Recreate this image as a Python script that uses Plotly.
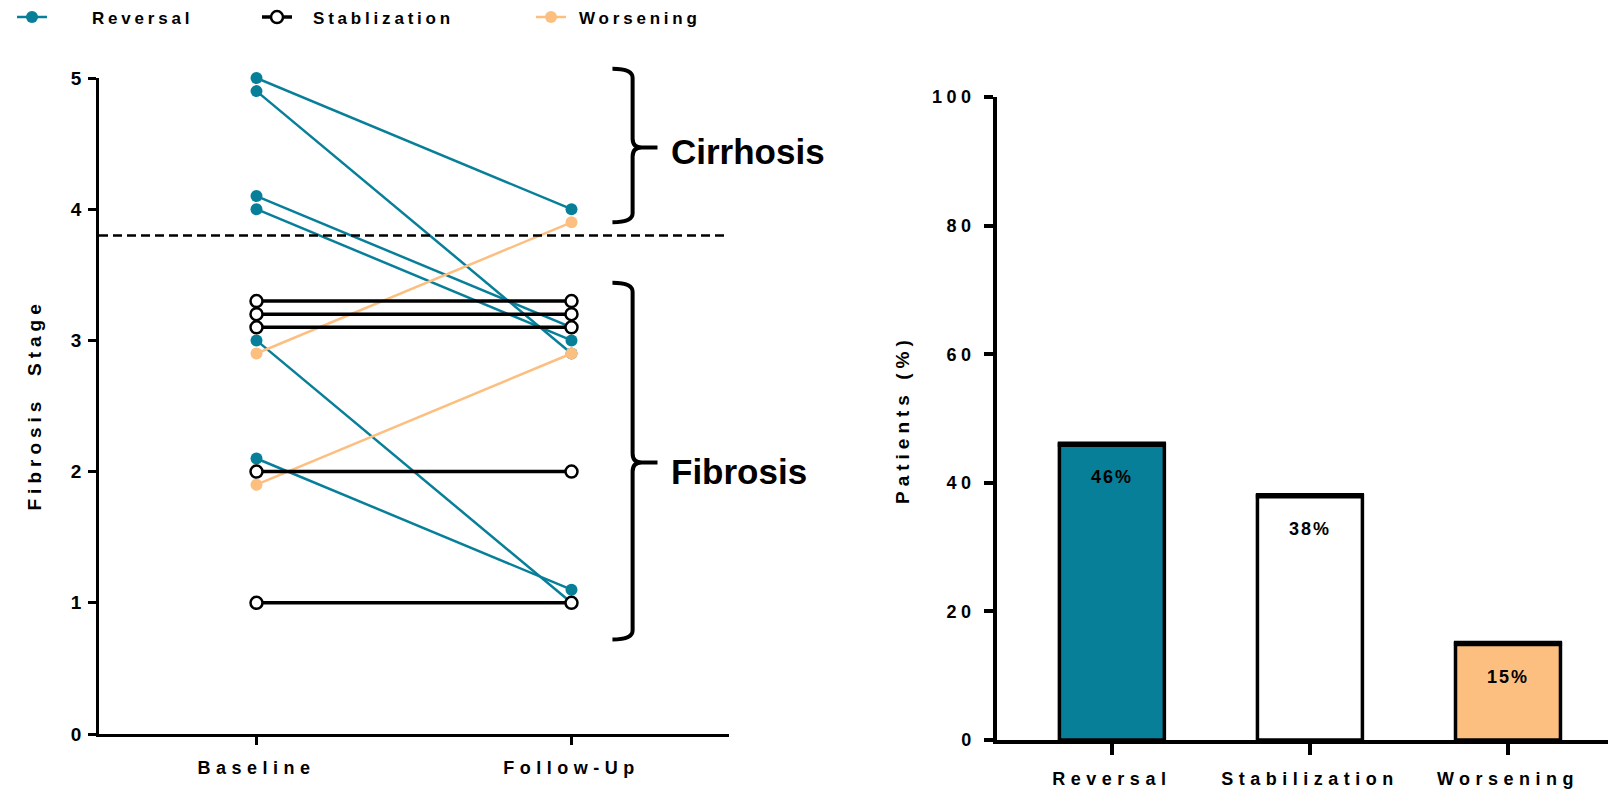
import plotly.graph_objects as go

# ---- data -------------------------------------------------------------
TIMEPOINTS = ["Baseline", "Follow-Up"]

reversal_baseline = [5.0, 4.9, 4.1, 4.0, 3.0, 2.1]
reversal_followup = [4.0, 2.9, 3.1, 3.0, 1.0, 1.1]
stabilization_baseline = [3.3, 3.2, 3.1, 2.0, 1.0]
stabilization_followup = [3.3, 3.2, 3.1, 2.0, 1.0]
worsening_baseline = [2.9, 1.9]
worsening_followup = [3.9, 2.9]

CIRRHOSIS_CUTOFF = 3.8
stage_ticks = [0, 1, 2, 3, 4, 5]

outcomes = ["Reversal", "Stabilization", "Worsening"]
outcome_pct = [46, 38, 15]
pct_ticks = [0, 20, 40, 60, 80, 100]

# ---- styling ----------------------------------------------------------
W, H = 1608, 789
TEAL = "#087f99"
ORANGE = "#fdbf80"
BLACK = "#000000"
FONT = "Liberation Sans, Arial, sans-serif"
BAR_WIDTH = 0.53

# left panel geometry (paper fractions)
LX = [99 / W, 729 / W]
LY = [1 - 734 / H, 1 - 78 / H]
LXR = [-0.5, 1.5]
LYR = [0, 5]
# right panel geometry
RX = [997 / W, 1.0]
RY = [1 - 740 / H, 1 - 97 / H]
RXR = [-0.58, 2.505]


def xpaper(v):
    return LX[0] + (v - LXR[0]) / (LXR[1] - LXR[0]) * (LX[1] - LX[0])


def ypaper(v):
    return LY[0] + (v - LYR[0]) / (LYR[1] - LYR[0]) * (LY[1] - LY[0])


def paired(before, after):
    xs, ys = [], []
    for b, a in zip(before, after):
        xs += [TIMEPOINTS[0], TIMEPOINTS[1], None]
        ys += [b, a, None]
    return xs, ys


fig = go.Figure()

groups = [
    ("Reversal", reversal_baseline, reversal_followup,
     dict(color=TEAL, width=2.5), dict(color=TEAL, size=12, line=dict(width=0)), "legend"),
    ("Worsening", worsening_baseline, worsening_followup,
     dict(color=ORANGE, width=2.5), dict(color=ORANGE, size=12, line=dict(width=0)), "legend3"),
    ("Stablization", stabilization_baseline, stabilization_followup,
     dict(color=BLACK, width=3.5), dict(color="white", size=12, line=dict(color=BLACK, width=2.5)), "legend2"),
]
for name, b, a, line, marker, lg in groups:
    xs, ys = paired(b, a)
    fig.add_trace(go.Scatter(
        x=xs, y=ys, mode="lines+markers", name=name, line=line, marker=marker,
        cliponaxis=False, legend=lg, xaxis="x", yaxis="y", hoverinfo="skip",
    ))

# bar panel
fig.add_trace(go.Bar(
    x=outcomes, y=outcome_pct, width=BAR_WIDTH,
    marker=dict(color=[TEAL, "white", ORANGE], line=dict(color=BLACK, width=3.5)),
    showlegend=False, xaxis="x2", yaxis="y2", hoverinfo="skip",
))
for i, (cat, v) in enumerate(zip(outcomes, outcome_pct)):
    # heavier cap on each bar top
    fig.add_shape(type="line", xref="x2", yref="y2",
                  x0=i - BAR_WIDTH / 2 - 0.008, x1=i + BAR_WIDTH / 2 + 0.008, y0=v, y1=v,
                  line=dict(color=BLACK, width=5.5))
    fig.add_annotation(x=cat, y=v, xref="x2", yref="y2", text=f"{v}%", showarrow=False,
                       yshift=-33, font=dict(family=FONT, size=18, color=BLACK, weight="bold"))

# cirrhosis threshold
fig.add_shape(type="line", xref="x", yref="y", x0=LXR[0], x1=LXR[1],
              y0=CIRRHOSIS_CUTOFF, y1=CIRRHOSIS_CUTOFF,
              line=dict(color=BLACK, width=2.5, dash="9px,5px"))


# curly brackets beside the follow-up column
def bracket(top, bottom, mid, xv=1.194, xh=1.13, xn=1.273, r=9):
    pv, ph, pn = xpaper(xv), xpaper(xh), xpaper(xn)
    t, b, m = ypaper(top), ypaper(bottom), ypaper(mid)
    dy = r / H
    dx = r / W
    return (f"M{ph},{t} Q{pv},{t} {pv},{t - dy} L{pv},{m + dy} "
            f"Q{pv},{m} {pv + dx},{m} L{pn},{m} M{pv + dx},{m} Q{pv},{m} {pv},{m - dy} "
            f"L{pv},{b + dy} Q{pv},{b} {ph},{b}")


for top, bottom, mid, label, ytext in [(5.07, 3.90, 4.47, "Cirrhosis", 4.44),
                                       (3.44, 0.72, 2.07, "Fibrosis", 2.0)]:
    fig.add_shape(type="path", xref="paper", yref="paper",
                  path=bracket(top, bottom, mid), line=dict(color=BLACK, width=4))
    fig.add_annotation(x=1.308, y=ytext, xref="x", yref="y", text=label, showarrow=False,
                       xanchor="left", yanchor="middle",
                       font=dict(family=FONT, size=35, color=BLACK, weight="bold"))

# axis titles
fig.add_annotation(x=22.5 / W, y=1 - 405 / H, xref="paper", yref="paper", text="Fibrosis  Stage",
                   textangle=-90, showarrow=False,
                   font=dict(family=FONT, size=19, color=BLACK, weight="bold"))
fig.add_annotation(x=902 / W, y=1 - 420 / H, xref="paper", yref="paper", text="Patients (%)",
                   textangle=-90, showarrow=False,
                   font=dict(family=FONT, size=19, color=BLACK, weight="bold"))

axis_common = dict(showgrid=False, zeroline=False, showline=True, linecolor=BLACK,
                   ticks="outside", tickcolor=BLACK, fixedrange=True)


def tickfont(size):
    return dict(family=FONT, size=size, color=BLACK, weight="bold")


# legend keys: (legend id, key centre px, label start px)
legend_slots = [("legend", 32, 92), ("legend2", 277, 313), ("legend3", 551, 579)]


def legend_at(symbol_center_px):
    return dict(orientation="h", xanchor="left", yanchor="middle", y=1 - 17.5 / H,
                x=(symbol_center_px - 20) / W, itemwidth=30, entrywidth=260,
                entrywidthmode="pixels", bgcolor="rgba(0,0,0,0)",
                font=dict(family=FONT, size=17, color=BLACK, weight="bold"))


fig.update_layout(
    width=W, height=H, margin=dict(l=0, r=0, t=0, b=0, autoexpand=False),
    paper_bgcolor="white", plot_bgcolor="white",
    xaxis=dict(domain=LX, range=LXR, type="category", categoryarray=TIMEPOINTS,
               linewidth=2.5, ticklen=8, tickwidth=2.5, ticklabelstandoff=8, anchor="y",
               tickfont=tickfont(18), **axis_common),
    yaxis=dict(domain=LY, range=LYR, tickvals=stage_ticks, linewidth=2.5, ticklen=8,
               tickwidth=2.5, ticklabelstandoff=3, anchor="x", tickfont=tickfont(19),
               **axis_common),
    xaxis2=dict(domain=RX, range=RXR, type="category", categoryarray=outcomes,
                linewidth=3.5, ticklen=11, tickwidth=3.5, ticklabelstandoff=9, anchor="y2",
                tickfont=tickfont(18), **axis_common),
    yaxis2=dict(domain=RY, range=[0, 100], tickvals=pct_ticks, linewidth=3.5, ticklen=9,
                tickwidth=3.5, ticklabelstandoff=5, anchor="x2", tickfont=tickfont(18),
                **axis_common),
    **{lid: legend_at(c) for lid, c, _ in legend_slots},
)

# tracked lettering, as in the original Prism export
css_rules = [
    ".xtick text { letter-spacing: 5.5px; }",
    ".x2tick text { letter-spacing: 5.5px; }",
    ".y2tick text { letter-spacing: 4.5px; }",
    "g.annotation[data-index='0'] text, g.annotation[data-index='1'] text,"
    " g.annotation[data-index='2'] text { letter-spacing: 2px; }",
    "g.annotation[data-index='5'] text, g.annotation[data-index='6'] text"
    " { letter-spacing: 5px; }",
]
for lid, centre, text_start in legend_slots:
    shift = text_start - (centre + 20)
    css_rules.append(f"g.{lid} .{lid}text {{ letter-spacing: 3.8px;"
                     f" transform: translateX({shift}px); }}")

post_js = """
var style = document.createElement('style');
style.textContent = %s;
document.head.appendChild(style);
""" % repr("\n".join(css_rules))

fig.write_html("out.html", post_script=post_js)
